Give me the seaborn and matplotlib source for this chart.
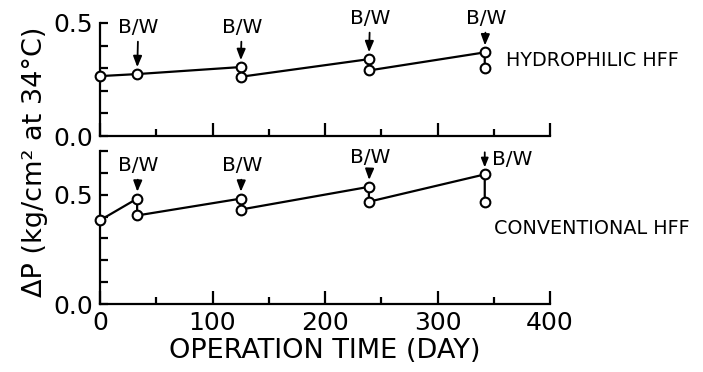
import numpy as np
import pandas as pd
import matplotlib
matplotlib.use("Agg")
import matplotlib.pyplot as plt
import seaborn as sns

# ---- data ----
days = [0, 33, 125, 239, 342]
hydro_before = [0.265, 0.274, 0.305, 0.340, 0.370]
hydro_after = [None, None, 0.262, 0.290, 0.302]
conv_before = [0.383, 0.482, 0.482, 0.536, 0.593]
conv_after = [None, 0.405, 0.432, 0.468, 0.468]
bw_days = [33, 125, 239, 342]
x_ticks = [0, 100, 200, 300, 400]
panel_names = ["HYDROPHILIC HFF", "CONVENTIONAL HFF"]

# ---- layout (annotation rows, in data units) ----
top_label_y = [0.438, 0.438, 0.478, 0.478]
bot_label_y = [0.590, 0.590, 0.626, 0.617]


def path_frame(before, after):
    rows = []
    for d, b, a in zip(days, before, after):
        rows.append({"day": d, "dp": b})
        if a is not None:
            rows.append({"day": d, "dp": a})
    return pd.DataFrame(rows)


sns.set_theme(style="ticks")
plt.rcParams["font.family"] = ["DejaVu Sans"]
plt.rcParams["text.color"] = "black"
plt.rcParams["xtick.color"] = "black"
plt.rcParams["ytick.color"] = "black"
plt.rcParams["axes.labelcolor"] = "black"

fig = plt.figure(figsize=(7.03, 3.72), dpi=100)
ax_top = fig.add_axes([100 / 703, 1 - 136 / 372, 450 / 703, 113 / 372])
ax_bot = fig.add_axes([100 / 703, 1 - 304 / 372, 450 / 703, 153 / 372])

lw = 1.6
arrow_style = "-|>,head_length=0.45,head_width=0.18"
for ax, before, after, ymax, labels_y, name, name_xy in [
    (ax_top, hydro_before, hydro_after, 0.5, top_label_y, panel_names[0], (361, 0.336)),
    (ax_bot, conv_before, conv_after, 0.7, bot_label_y, panel_names[1], (350, 0.347)),
]:
    df = path_frame(before, after)
    sns.lineplot(data=df, x="day", y="dp", sort=False, estimator=None, ax=ax,
                 color="black", linewidth=lw, marker="o", markersize=7,
                 markerfacecolor="white", markeredgecolor="black",
                 markeredgewidth=1.5, clip_on=False, zorder=5)
    ax.set_xlim(0, 400)
    ax.set_ylim(0, ymax)
    ax.set_xlabel("")
    ax.set_ylabel("")
    for s in ["top", "right"]:
        ax.spines[s].set_visible(False)
    for s in ["left", "bottom"]:
        ax.spines[s].set_linewidth(lw)
        ax.spines[s].set_color("black")
    ax.set_xticks(x_ticks)
    ax.set_xticks([50, 150, 250, 350], minor=True)
    yt = np.round(np.arange(0, ymax + 0.001, 0.1), 1)
    ax.set_yticks(yt)
    ax.set_yticklabels(["0.0" if abs(v) < 1e-9 else ("0.5" if abs(v - 0.5) < 1e-9 else "")
                        for v in yt])
    ax.tick_params(axis="x", which="major", direction="in", length=9.5, width=lw,
                   labelsize=18, pad=5)
    ax.tick_params(axis="x", which="minor", direction="in", length=5, width=lw)
    ax.tick_params(axis="y", which="major", direction="in", length=6, width=lw,
                   labelsize=18, pad=5)
    ax.set_facecolor("none")

    # B/W annotations
    for i, d in enumerate(bw_days):
        val = before[days.index(d)]
        if ax is ax_bot and i == 3:
            ax.annotate("", xy=(d, val), xytext=(d, 0.694), textcoords="data",
                        arrowprops=dict(arrowstyle=arrow_style,
                                        color="black", lw=1.3, shrinkA=0, shrinkB=5),
                        annotation_clip=False)
            ax.text(d + 6, labels_y[i], "B/W", ha="left", va="bottom", fontsize=14.5,
                    clip_on=False)
        else:
            ax.annotate("B/W", xy=(d, val), xytext=(d + 1, labels_y[i]), textcoords="data",
                        ha="center", va="bottom", fontsize=14.5,
                        arrowprops=dict(arrowstyle=arrow_style,
                                        color="black", lw=1.3, shrinkA=1, shrinkB=5),
                        annotation_clip=False)

    ax.text(name_xy[0], name_xy[1], name, ha="left", va="center", fontsize=13.8,
            clip_on=False)

ax_top.tick_params(axis="x", labelbottom=False)

ax_bot.set_xlabel("OPERATION TIME (DAY)", fontsize=19.5, labelpad=2)
fig.text(0.05, 0.565, "ΔP (kg/cm² at 34°C)", rotation=90, ha="center", va="center",
         fontsize=19.5)

fig.savefig("out.png", dpi=100, facecolor="white")
